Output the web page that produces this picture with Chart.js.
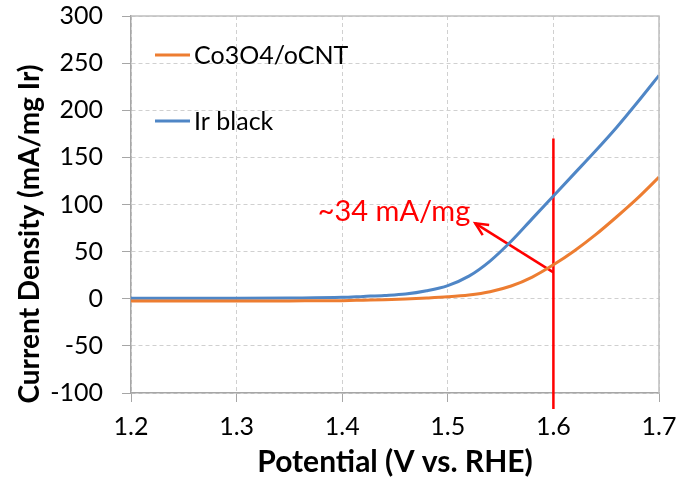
<!DOCTYPE html>
<html>
<head>
<meta charset="utf-8">
<script src="https://cdn.jsdelivr.net/npm/chart.js@4.4.0/dist/chart.umd.min.js"></script>
<style>
  html, body { margin: 0; padding: 0; background: #fff; }
  #wrap { width: 679px; height: 477px; }
</style>
</head>
<body>
<div id="wrap"><canvas id="chart"></canvas></div>
<script>
// --- data ---
const potential = [1.20, 1.30, 1.35, 1.40, 1.42, 1.44, 1.46, 1.48, 1.50, 1.52, 1.54, 1.56, 1.58, 1.60, 1.62, 1.64, 1.66, 1.68, 1.70];
const irBlack   = [0.5, 0.5, 0.8, 1.5, 2.5, 3.5, 5, 8.5, 14, 24, 40, 61, 85, 109, 133, 157, 182, 209, 237];
const co3o4     = [-2.5, -2.5, -2.3, -2, -1.5, -1, -0.3, 0.7, 2, 4, 7.5, 13.5, 23, 36, 51, 68, 87, 107, 129];

const markerLine = [{ x: 1.6, y: 170 }, { x: 1.6, y: -117 }];
const arrowLine  = [{ x: 1.6, y: 28 }, { x: 1.526, y: 80 }];
const noteText = '~34 mA/mg';
const notePos = { x: 1.449, y: 92 };

const xTicks = [1.2, 1.3, 1.4, 1.5, 1.6, 1.7];
const yTitle = 'Current Density (mA/mg Ir)';

const FONT = 'Lato, "Open Sans", sans-serif';
const ORANGE = '#ed7d31';
const BLUE = '#4f86c6';
const RED = '#ff0000';

// frame round the plot area + legend + arrow head + note + y title
const extras = {
    id: 'extras',
    afterDatasetsDraw(chart) {
        const { ctx, chartArea: a, scales: { x, y } } = chart;
        ctx.save();
        // top/right frame lines
        ctx.strokeStyle = '#bfbfbf';
        ctx.lineWidth = 1.5;
        ctx.beginPath();
        ctx.moveTo(a.left, a.top);
        ctx.lineTo(a.right, a.top);
        ctx.lineTo(a.right, a.bottom);
        ctx.stroke();

        // arrow head
        const x0 = x.getPixelForValue(arrowLine[0].x), y0 = y.getPixelForValue(arrowLine[0].y);
        const x1 = x.getPixelForValue(arrowLine[1].x), y1 = y.getPixelForValue(arrowLine[1].y);
        const ang = Math.atan2(y1 - y0, x1 - x0);
        const len = 14, spread = 0.45;
        ctx.strokeStyle = RED;
        ctx.lineWidth = 2.5;
        ctx.beginPath();
        ctx.moveTo(x1 - len * Math.cos(ang - spread), y1 - len * Math.sin(ang - spread));
        ctx.lineTo(x1, y1);
        ctx.lineTo(x1 - len * Math.cos(ang + spread), y1 - len * Math.sin(ang + spread));
        ctx.stroke();

        // note
        ctx.fillStyle = RED;
        ctx.font = '29px ' + FONT;
        ctx.textAlign = 'center';
        ctx.textBaseline = 'middle';
        ctx.fillText(noteText, x.getPixelForValue(notePos.x), y.getPixelForValue(notePos.y));

        // legend inside plot
        const items = [chart.data.datasets[0], chart.data.datasets[1]];
        ctx.font = '25px ' + FONT;
        ctx.textAlign = 'left';
        ctx.fillStyle = '#000';
        items.forEach((ds, i) => {
            const ly = 55 + i * 66;
            ctx.strokeStyle = ds.borderColor;
            ctx.lineWidth = 3;
            ctx.beginPath();
            ctx.moveTo(155, ly);
            ctx.lineTo(190, ly);
            ctx.stroke();
            ctx.fillText(ds.label, 194, ly + 1);
        });

        // y axis title (Excel places it a bit below the plot centre)
        ctx.translate(30, 234);
        ctx.rotate(-Math.PI / 2);
        ctx.font = 'bold 28px ' + FONT;
        ctx.textAlign = 'center';
        ctx.fillText(yTitle, 0, 0);
        ctx.restore();
    }
};

new Chart(document.getElementById('chart'), {
    type: 'line',
    data: {
        datasets: [
            { label: 'Co3O4/oCNT', data: potential.map((v, i) => ({ x: v, y: co3o4[i] })), borderColor: ORANGE, borderWidth: 3, pointRadius: 0, cubicInterpolationMode: 'monotone' },
            { label: 'Ir black', data: potential.map((v, i) => ({ x: v, y: irBlack[i] })), borderColor: BLUE, borderWidth: 3, pointRadius: 0, cubicInterpolationMode: 'monotone' },
            { label: 'marker', data: markerLine, borderColor: RED, borderWidth: 2.5, pointRadius: 0, clip: false },
            { label: 'arrow', data: arrowLine, borderColor: RED, borderWidth: 2.5, pointRadius: 0, clip: false }
        ]
    },
    options: {
        responsive: true,
        maintainAspectRatio: false,
        animation: false,
        layout: { padding: { top: 16, right: 20, bottom: 0, left: 0 } },
        plugins: { legend: { display: false }, tooltip: { enabled: false } },
        scales: {
            x: {
                type: 'linear', min: 1.2, max: 1.7,
                afterBuildTicks: (s) => { s.ticks = xTicks.map(v => ({ value: v })); },
                afterFit: (s) => { s.height = 84; s.paddingLeft = 0; s.paddingRight = 0; },
                ticks: { color: '#000', font: { family: FONT, size: 25 }, padding: 10, maxRotation: 0, callback: (v) => v.toFixed(1) },
                grid: { color: '#d0d0d0', tickLength: 9, tickColor: '#a6a6a6', tickBorderDash: [] },
                border: { color: '#a6a6a6', width: 1.5, dash: [4, 3] },
                title: { display: true, text: 'Potential (V vs. RHE)', color: '#000', font: { family: FONT, size: 30, weight: 'bold', lineHeight: 1 }, padding: { top: 0, bottom: 0 } }
            },
            y: {
                min: -100, max: 300,
                afterFit: (s) => { s.width = 131; s.paddingTop = 0; s.paddingBottom = 0; },
                ticks: { stepSize: 50, color: '#000', font: { family: FONT, size: 25 }, padding: 19 },
                grid: { color: '#d0d0d0', tickLength: 9, tickColor: '#a6a6a6', tickBorderDash: [] },
                border: { color: '#a6a6a6', width: 1.5, dash: [4, 3] }
            }
        }
    },
    plugins: [extras]
});
</script>
</body>
</html>
